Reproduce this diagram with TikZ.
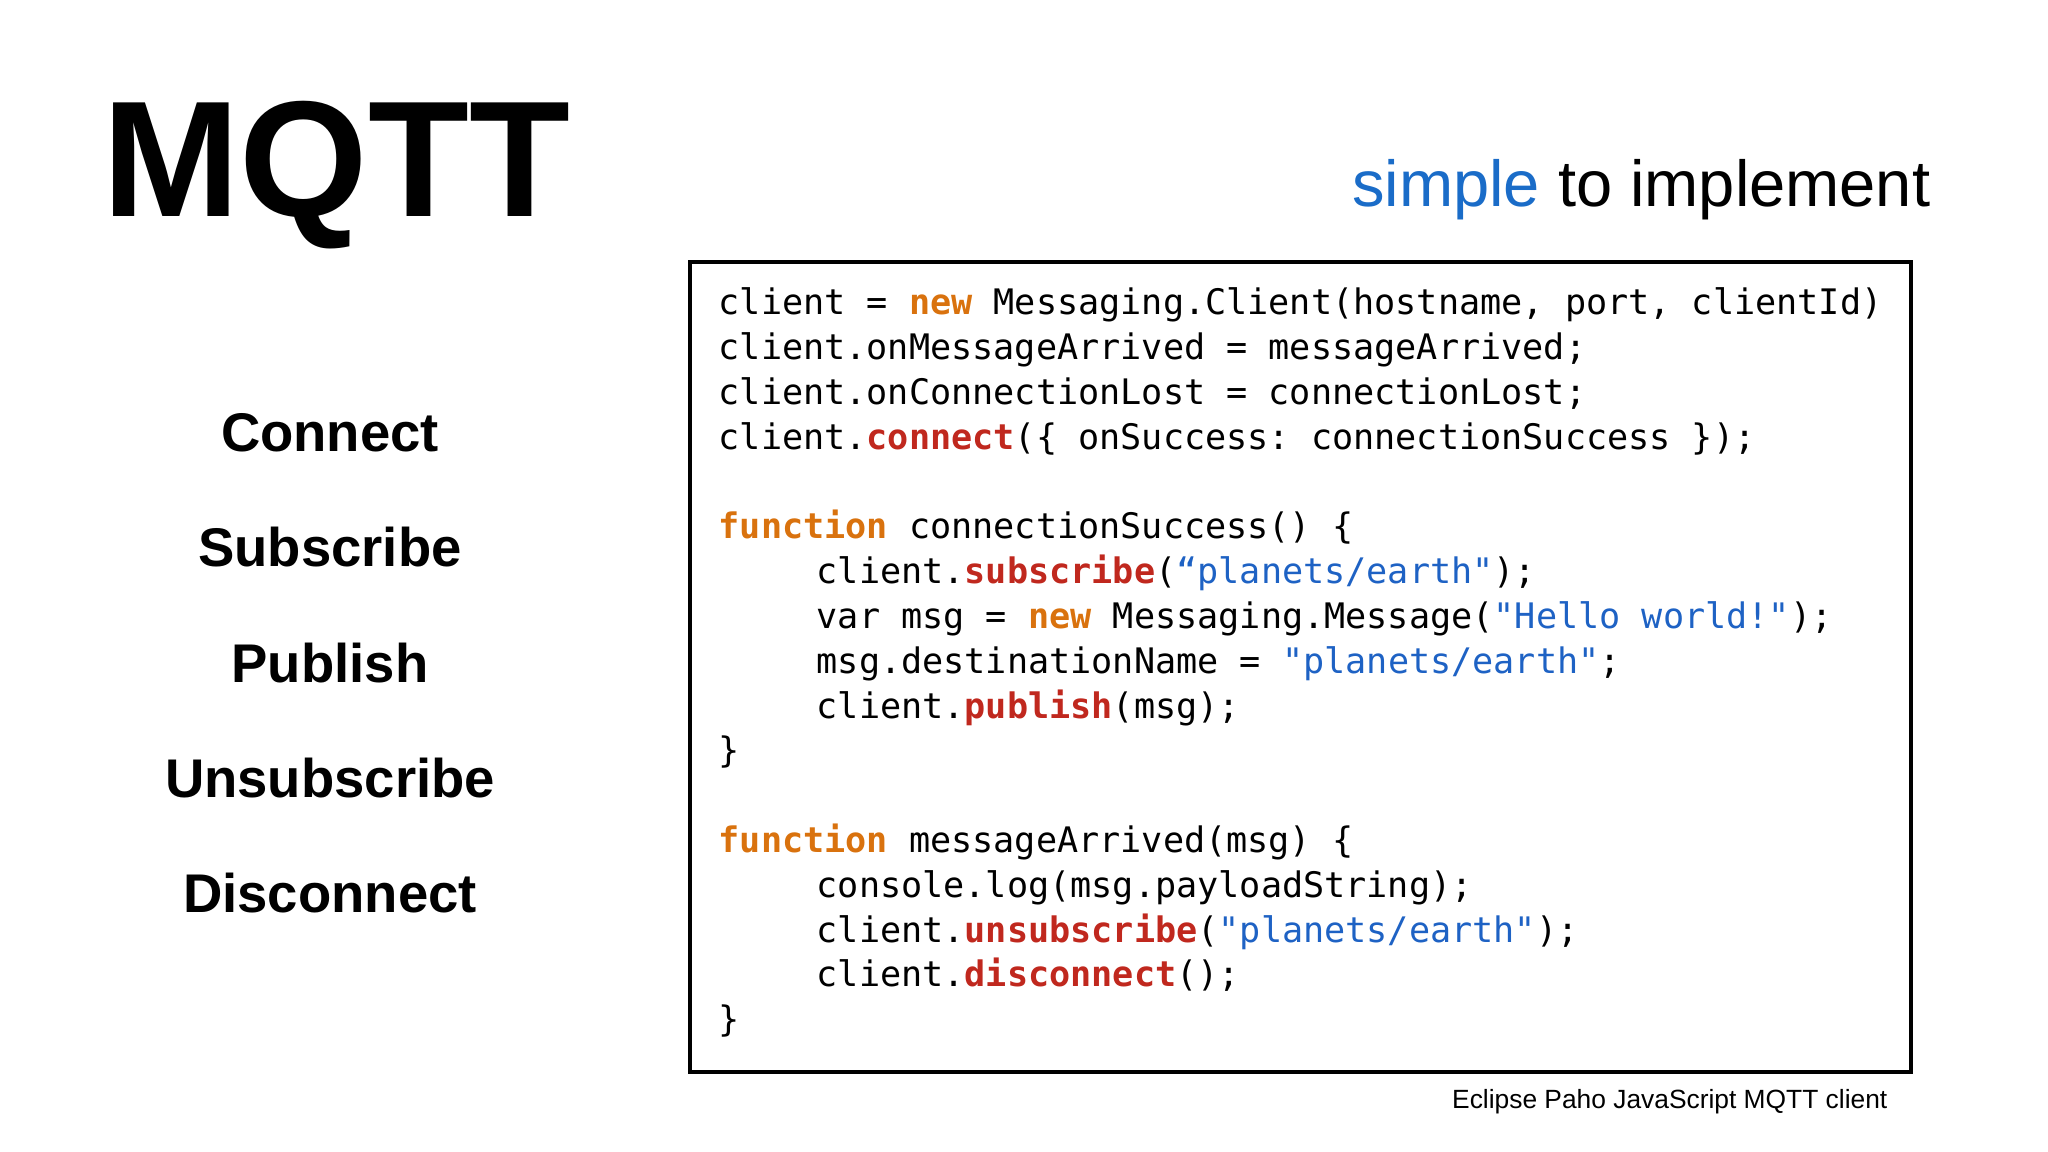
\documentclass[tikz,border=0pt]{standalone}
\usepackage{fontspec}
\setmainfont{Liberation Sans}
\setmonofont{DejaVu Sans Mono}
\definecolor{kwor}{HTML}{D9720E}
\definecolor{fnred}{HTML}{C0281E}
\definecolor{strbl}{HTML}{1E62C4}
\definecolor{simpbl}{HTML}{1A6CC8}
\newcommand{\kw}[1]{\textbf{\textcolor{kwor}{#1}}}
\newcommand{\fnc}[1]{\textbf{\textcolor{fnred}{#1}}}
\newcommand{\str}[1]{\textcolor{strbl}{#1}}
\tikzset{
  code/.style={anchor=base west, inner sep=0, font=\ttfamily\fontsize{10}{12}\selectfont},
  op/.style={font=\bfseries\fontsize{15.5}{18}\selectfont, anchor=base},
}
\begin{document}
\begin{tikzpicture}[x=1cm,y=1cm]
\useasboundingbox (0,0) rectangle (20.48,11.52);
\node[font=\bfseries\fontsize{47}{50}\selectfont, anchor=base] (title) at (3.36,9.35) {MQTT};
\node[font=\fontsize{18.5}{22}\selectfont, anchor=base east, inner sep=0] (sub) at (19.31,9.45) {\textcolor{simpbl}{simple} to implement};
\node[op] (c1) at (3.30,7.00) {Connect};
\node[op] (c2) at (3.30,5.85) {Subscribe};
\node[op] (c3) at (3.30,4.69) {Publish};
\node[op] (c4) at (3.30,3.54) {Unsubscribe};
\node[op] (c5) at (3.30,2.39) {Disconnect};
\draw[line width=0.9pt] (6.90,0.80) rectangle (19.11,8.90);
\def\lx{7.18}\def\ix{8.16}
\def\ly#1{8.37-#1*0.448}
\node[code] (l0) at (\lx,{\ly{0}}) {client = \kw{new} Messaging.Client(hostname, port, clientId)};
\node[code] (l1) at (\lx,{\ly{1}}) {client.onMessageArrived = messageArrived;};
\node[code] (l2) at (\lx,{\ly{2}}) {client.onConnectionLost = connectionLost;};
\node[code] (l3) at (\lx,{\ly{3}}) {client.\fnc{connect}(\{ onSuccess: connectionSuccess \});};
\node[code] (l5) at (\lx,{\ly{5}}) {\kw{function} connectionSuccess() \{};
\node[code] (l6) at (\ix,{\ly{6}}) {client.\fnc{subscribe}(\str{“planets/earth"});};
\node[code] (l7) at (\ix,{\ly{7}}) {var msg = \kw{new} Messaging.Message(\str{"Hello world!"});};
\node[code] (l8) at (\ix,{\ly{8}}) {msg.destinationName = \str{"planets/earth"};};
\node[code] (l9) at (\ix,{\ly{9}}) {client.\fnc{publish}(msg);};
\node[code] (l10) at (\lx,{\ly{10}}) {\}};
\node[code] (l12) at (\lx,{\ly{12}}) {\kw{function} messageArrived(msg) \{};
\node[code] (l13) at (\ix,{\ly{13}}) {console.log(msg.payloadString);};
\node[code] (l14) at (\ix,{\ly{14}}) {client.\fnc{unsubscribe}(\str{"planets/earth"});};
\node[code] (l15) at (\ix,{\ly{15}}) {client.\fnc{disconnect}();};
\node[code] (l16) at (\lx,{\ly{16}}) {\}};
\node[font=\fontsize{7.5}{9}\selectfont, anchor=base east, inner sep=0] (foot) at (18.88,0.43) {Eclipse Paho JavaScript MQTT client};
\end{tikzpicture}
\end{document}
